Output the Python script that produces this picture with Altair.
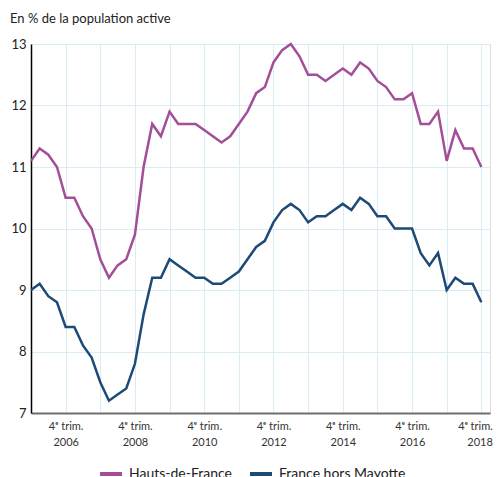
import altair as alt
import pandas as pd

# quarter index: 0 = 4e trim. 2005 ... 52 = 4e trim. 2018
quarter_index = list(range(53))

hauts_de_france = [
    11.1, 11.3, 11.2, 11.0, 10.5, 10.5, 10.2, 10.0, 9.5, 9.2,
    9.4, 9.5, 9.9, 11.0, 11.7, 11.5, 11.9, 11.7, 11.7, 11.7,
    11.6, 11.5, 11.4, 11.5, 11.7, 11.9, 12.2, 12.3, 12.7, 12.9,
    13.0, 12.8, 12.5, 12.5, 12.4, 12.5, 12.6, 12.5, 12.7, 12.6,
    12.4, 12.3, 12.1, 12.1, 12.2, 11.7, 11.7, 11.9, 11.1, 11.6,
    11.3, 11.3, 11.0,
]
france_hors_mayotte = [
    9.0, 9.1, 8.9, 8.8, 8.4, 8.4, 8.1, 7.9, 7.5, 7.2,
    7.3, 7.4, 7.8, 8.6, 9.2, 9.2, 9.5, 9.4, 9.3, 9.2,
    9.2, 9.1, 9.1, 9.2, 9.3, 9.5, 9.7, 9.8, 10.1, 10.3,
    10.4, 10.3, 10.1, 10.2, 10.2, 10.3, 10.4, 10.3, 10.5, 10.4,
    10.2, 10.2, 10.0, 10.0, 10.0, 9.6, 9.4, 9.6, 9.0, 9.2,
    9.1, 9.1, 8.8,
]
series_names = ["Hauts-de-France", "France hors Mayotte"]
series_colors = ["#a34e98", "#1d4a76"]

tick_positions = [4, 12, 20, 28, 36, 44, 52]
tick_years = ["2006", "2008", "2010", "2012", "2014", "2016", "2018"]
tick_prefix = "4ᵉ trim."
grid_positions = list(range(4, 53, 4))
y_ticks = [7, 8, 9, 10, 11, 12, 13]
y_title = "En % de la population active"

FONT = "Lato"

rows = []
for name, vals in zip(series_names, [hauts_de_france, france_hors_mayotte]):
    for q, v in zip(quarter_index, vals):
        rows.append({"q": q, "value": v, "serie": name})
df = pd.DataFrame(rows)

label_expr = "''"
for pos, yr in reversed(list(zip(tick_positions, tick_years))):
    label_expr = f"datum.value == {pos} ? ['{tick_prefix}', '{yr}'] : ({label_expr})"

lines = alt.Chart(df).mark_line(strokeWidth=2.5).encode(
    x=alt.X(
        "q:Q",
        scale=alt.Scale(domain=[0, 53], nice=False, zero=False),
        axis=alt.Axis(
            values=grid_positions,
            labelExpr=label_expr,
            title=None,
            grid=True,
            gridColor="#d9edf7",
            gridWidth=1,
            ticks=False,
            domainColor="#6e6e6e",
            domainWidth=2,
            labelFont=FONT,
            labelFontSize=11,
            labelColor="#333333",
            labelLineHeight=16,
            labelPadding=7,
            labelBaseline="top",
            labelFlush=10,
            labelFlushOffset=11,
            labelOverlap=False,
        ),
    ),
    y=alt.Y(
        "value:Q",
        scale=alt.Scale(domain=[7, 13], nice=False, zero=False),
        axis=alt.Axis(
            values=y_ticks,
            title=None,
            grid=True,
            gridColor="#d9edf7",
            gridWidth=1,
            ticks=False,
            domainColor="#000000",
            domainWidth=1.5,
            labelFont=FONT,
            labelFontSize=13,
            labelColor="#222222",
            labelPadding=5,
            labelFlush=False,
        ),
    ),
    color=alt.Color(
        "serie:N",
        scale=alt.Scale(domain=series_names, range=series_colors),
        legend=alt.Legend(
            title=None,
            orient="none",
            legendX=67,
            legendY=417,
            direction="horizontal",
            symbolType="stroke",
            symbolSize=484,
            symbolStrokeWidth=4,
            labelFont=FONT,
            labelFontSize=14,
            labelColor="#222222",
            labelOffset=5,
            columnPadding=10,
        ),
    ),
)

title_text = alt.Chart(pd.DataFrame({"t": [y_title]})).mark_text(
    align="left", baseline="alphabetic", font=FONT, fontSize=13, color="#222222"
).encode(
    text="t:N",
    x=alt.value(-21),
    y=alt.value(-21),
)

chart = alt.layer(lines, title_text).properties(
    width=459,
    height=369,
    autosize=alt.AutoSizeParams(type="none"),
    padding={"left": 23, "top": 36, "right": 3, "bottom": 64},
).configure_view(stroke=None).configure(background="white")

chart.save("out.html", embed_options={"renderer": "svg", "actions": False})
